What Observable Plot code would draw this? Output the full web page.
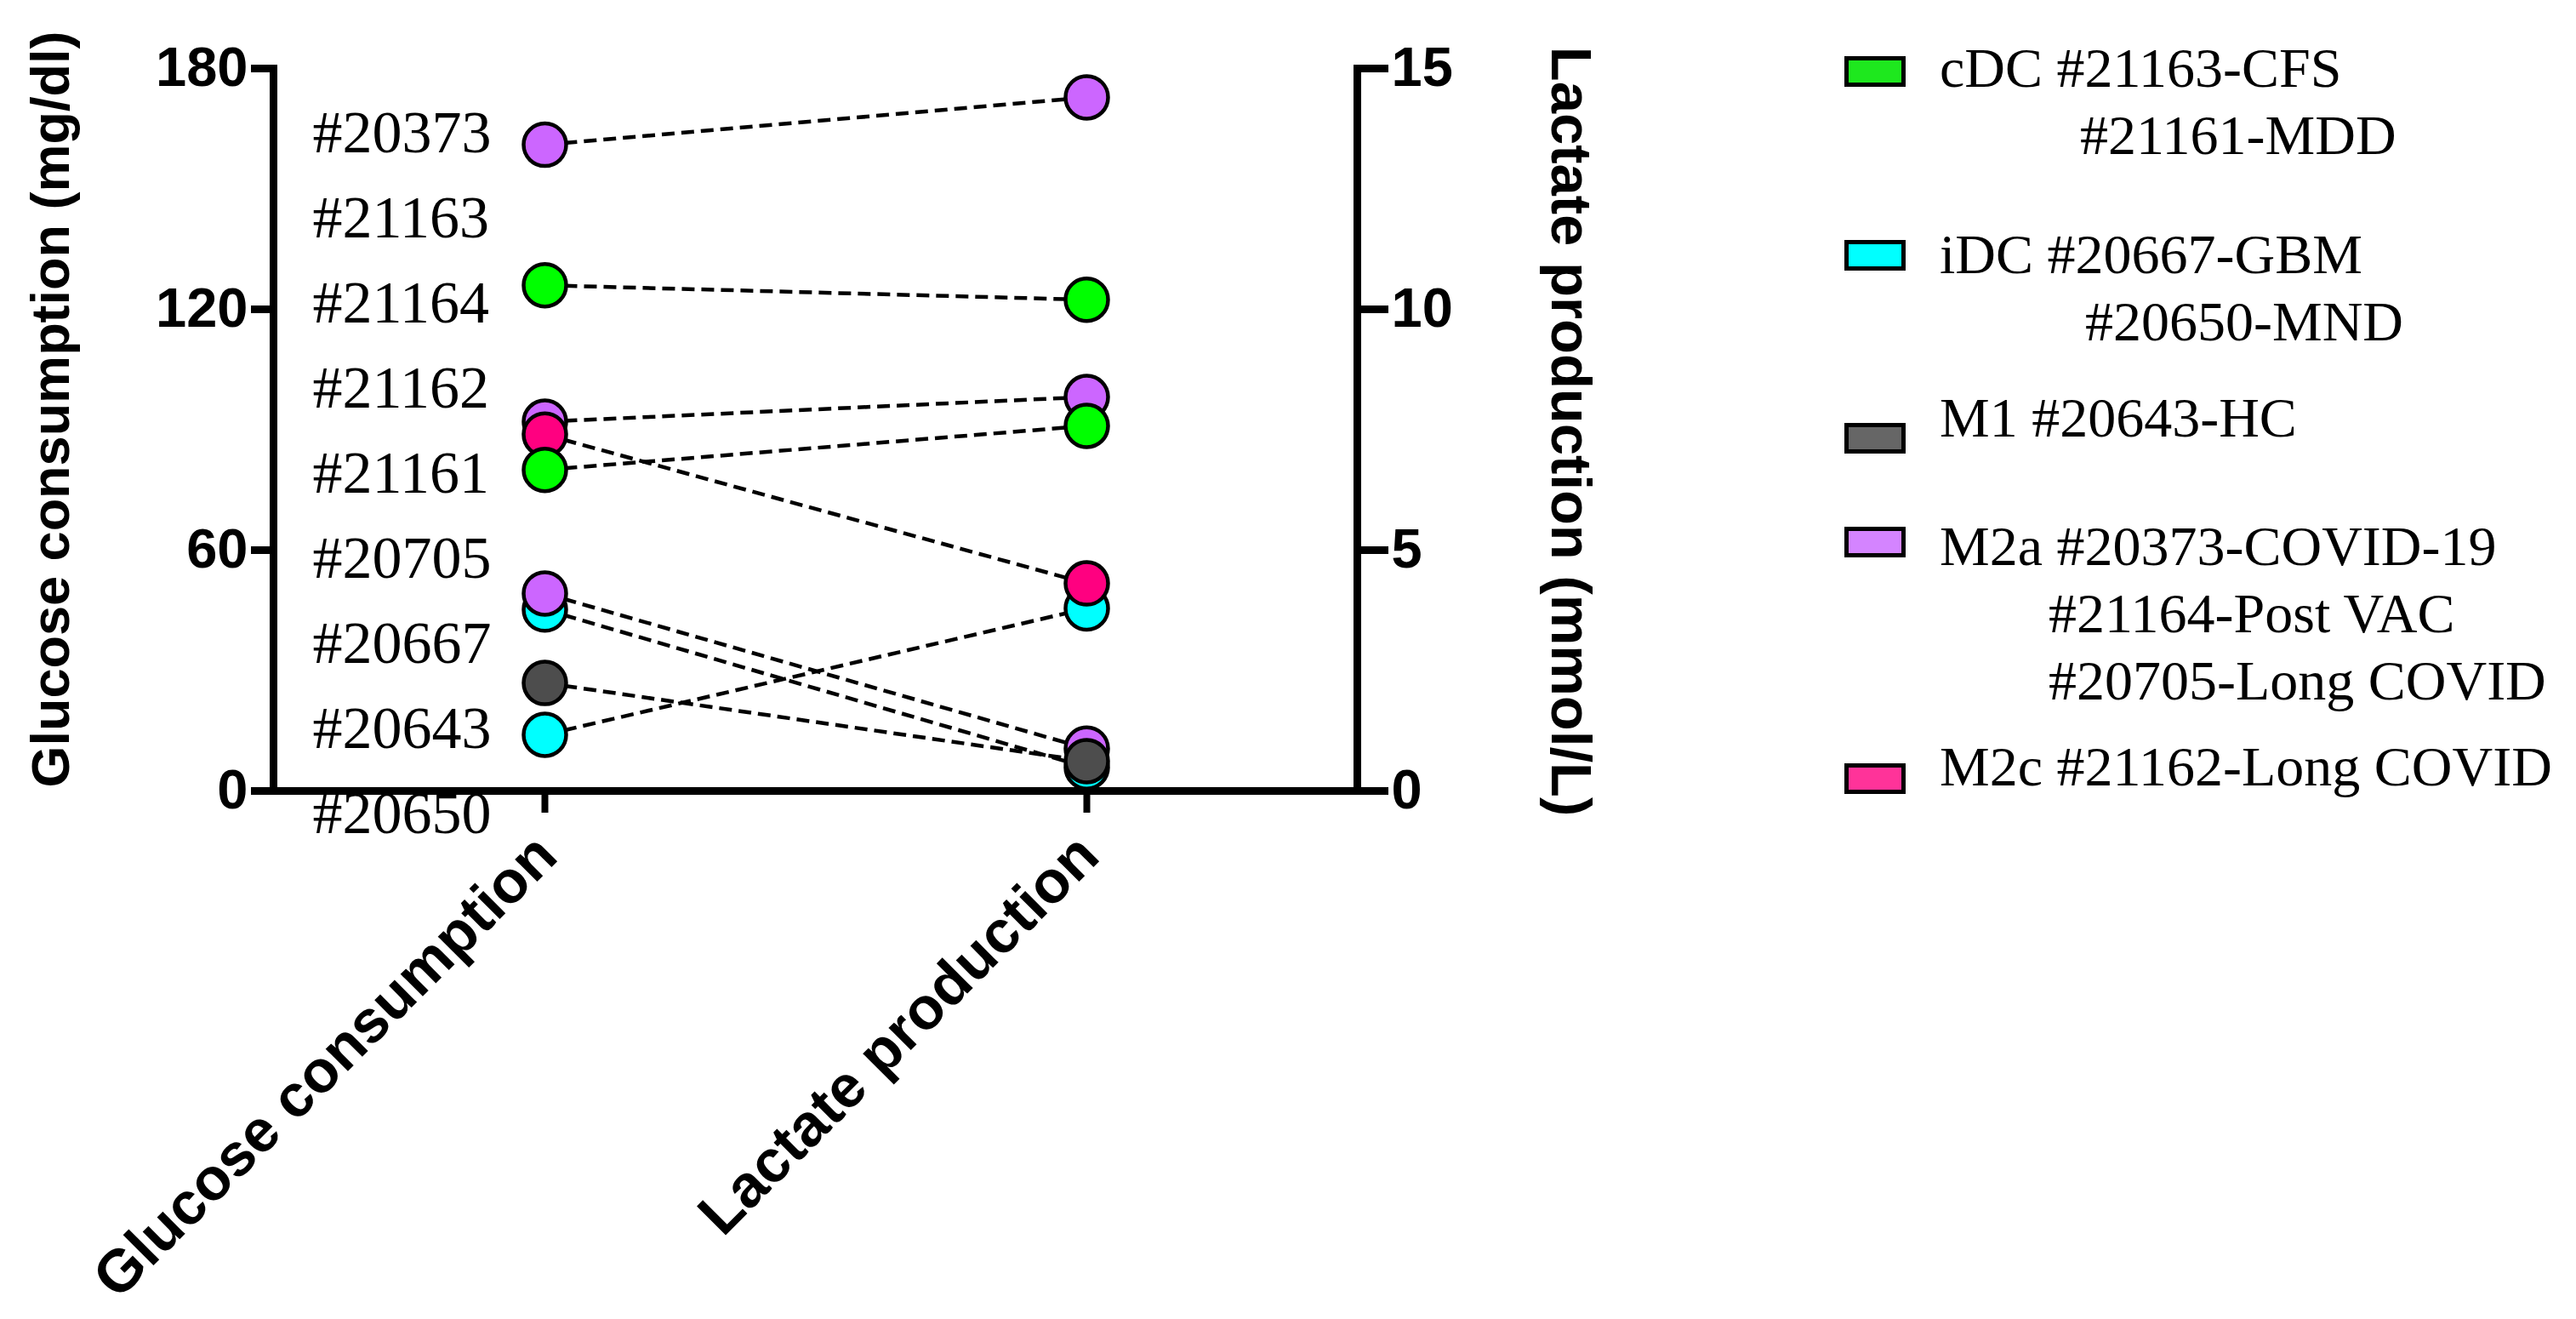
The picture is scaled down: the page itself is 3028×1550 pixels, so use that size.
<!DOCTYPE html>
<html>
<head>
<meta charset="utf-8">
<script src="https://cdn.jsdelivr.net/npm/d3@7"></script>
<script src="https://cdn.jsdelivr.net/npm/@observablehq/plot@0.6"></script>
<style>
html, body { margin: 0; padding: 0; background: #fff; }
#wrap { position: relative; width: 3028px; height: 1550px; overflow: hidden; background: #fff; }
#chart { position: absolute; left: 0; top: 0; }
.legend-swatch { position: absolute; box-sizing: border-box; border: 5px solid #000; width: 72px; height: 36px; }
.legend-line { position: absolute; font-family: "Liberation Serif", "Times New Roman", serif; font-size: 66px; line-height: 66px; white-space: nowrap; color: #000; }
</style>
</head>
<body>
<div id="wrap"><div id="chart"></div><div id="legend"></div></div>
<script>
// ---------- data ----------
const categories = ["Glucose consumption", "Lactate production"];
const samples   = ["#20373", "#21163", "#21164", "#21162", "#21161", "#20705", "#20667", "#20643", "#20650"];
const cellTypes = ["M2a",    "cDC",    "M2a",    "M2c",    "cDC",    "M2a",    "iDC",    "M1",     "iDC"];
const glucose   = [161,      126,      92,       88.8,     80,       49.2,     45.2,     26.9,     14.0];   // mg/dl
const lactate   = [14.4,     10.2,     8.18,     4.31,     7.58,     0.88,     0.49,     0.62,     3.79];   // mmol/L
const glucoseTicks = [0, 60, 120, 180];
const lactateTicks = [0, 5, 10, 15];
const groupNames   = ["cDC", "iDC", "M1", "M2a", "M2c"];
const pointColors  = ["#00ff00", "#00ffff", "#4d4d4d", "#cc66ff", "#ff0080"];
const legendColors = ["#1ee81e", "#00ffff", "#666666", "#d484ff", "#ff3399"];
const drawOrder    = ["iDC", "M2a", "M1", "M2c", "cDC"];
const legendText = [
  ["cDC #21163-CFS", "#21161-MDD"],
  ["iDC #20667-GBM", "#20650-MND"],
  ["M1 #20643-HC"],
  ["M2a #20373-COVID-19", "#21164-Post VAC", "#20705-Long COVID"],
  ["M2c #21162-Long COVID"]
];
const yTitleLeft  = "Glucose consumption (mg/dl)";
const yTitleRight = "Lactate production (mmol/L)";

// ---------- layout (not data) ----------
const legendLayout = {
  swatchLeft: 2168,
  textLeft: 2280,
  swatchTop: [66, 282, 497, 619, 897],
  firstBaseline: [102, 321, 513, 664, 923],
  lineGap: 79,
  indent: [2445, 2451, 2280, 2408, 2280],
  baselineOffset: 55
};

// ---------- build ----------
const k = glucoseTicks[glucoseTicks.length - 1] / lactateTicks[lactateTicks.length - 1];
const rows = samples.map((s, i) => ({sample: s, type: cellTypes[i], glucose: glucose[i], lactate: lactate[i]}));
const points = [];
drawOrder.forEach(t => rows.filter(r => r.type === t).forEach(r => {
  points.push({...r, measure: categories[0], value: r.glucose});
  points.push({...r, measure: categories[1], value: r.lactate * k});
}));

const chart = Plot.plot({
  width: 3028,
  height: 1550,
  marginLeft: 321,
  marginRight: 1433,
  marginTop: 80,
  marginBottom: 621,
  style: {fontFamily: "'Liberation Sans', Arial, sans-serif", background: "#fff", color: "#000", overflow: "visible"},
  x: {type: "point", domain: categories, padding: 0.5, label: null},
  y: {domain: [0, glucoseTicks[glucoseTicks.length - 1]], label: null},
  color: {domain: groupNames, range: pointColors},
  marks: [
    Plot.frame({anchor: "left", strokeWidth: 9, strokeLinecap: "square"}),
    Plot.frame({anchor: "right", strokeWidth: 9, strokeLinecap: "square"}),
    Plot.ruleY([0], {strokeWidth: 9, insetLeft: -26, insetRight: -36}),
    Plot.axisY({anchor: "left", ticks: glucoseTicks, tickSize: 26, tickPadding: 4, strokeWidth: 9,
      fontSize: 65, fontWeight: "bold", label: null}),
    Plot.axisY({anchor: "right", ticks: lactateTicks.map(v => v * k), tickFormat: d => d / k,
      tickSize: 36, tickPadding: 4, strokeWidth: 9, fontSize: 65, fontWeight: "bold", label: null}),
    Plot.axisX({tickSize: 26, strokeWidth: 8, tickFormat: () => "", label: null}),
    Plot.axisX({tickSize: 0, tickRotate: -45, tickPadding: 64, dx: 2, fontSize: 70, fontWeight: "bold", label: null}),
    Plot.text([samples.join("\n")], {frameAnchor: "left", textAnchor: "start", lineAnchor: "middle",
      dx: 46, dy: 42, lineHeight: 100 / 70, fontSize: 70, fontFamily: "'Liberation Serif', serif"}),
    Plot.link(rows, {x1: () => categories[0], y1: "glucose", x2: () => categories[1], y2: d => d.lactate * k,
      stroke: "#000", strokeWidth: 4.5, strokeDasharray: "15,8"}),
    Plot.dot(points, {x: "measure", y: "value", r: 25, fill: "type", stroke: "#000", strokeWidth: 4.5}),
    Plot.text([yTitleLeft], {frameAnchor: "left", rotate: -90, lineAnchor: "bottom", textAnchor: "middle",
      dx: -241, dy: -24, fontSize: 63, fontWeight: "bold"}),
    Plot.text([yTitleRight], {frameAnchor: "right", rotate: 90, lineAnchor: "bottom", textAnchor: "middle",
      dx: 228, dy: 2, fontSize: 67, fontWeight: "bold"})
  ]
});
document.getElementById("chart").appendChild(chart);

// ---------- legend (HTML) ----------
const legend = document.getElementById("legend");
groupNames.forEach((g, i) => {
  const sw = document.createElement("div");
  sw.className = "legend-swatch";
  sw.style.left = legendLayout.swatchLeft + "px";
  sw.style.top = legendLayout.swatchTop[i] + "px";
  sw.style.background = legendColors[i];
  legend.appendChild(sw);
  legendText[i].forEach((line, j) => {
    const el = document.createElement("div");
    el.className = "legend-line";
    el.textContent = line;
    el.style.left = (j === 0 ? legendLayout.textLeft : legendLayout.indent[i]) + "px";
    el.style.top = (legendLayout.firstBaseline[i] + j * legendLayout.lineGap - legendLayout.baselineOffset) + "px";
    legend.appendChild(el);
  });
});
</script>
</body>
</html>
